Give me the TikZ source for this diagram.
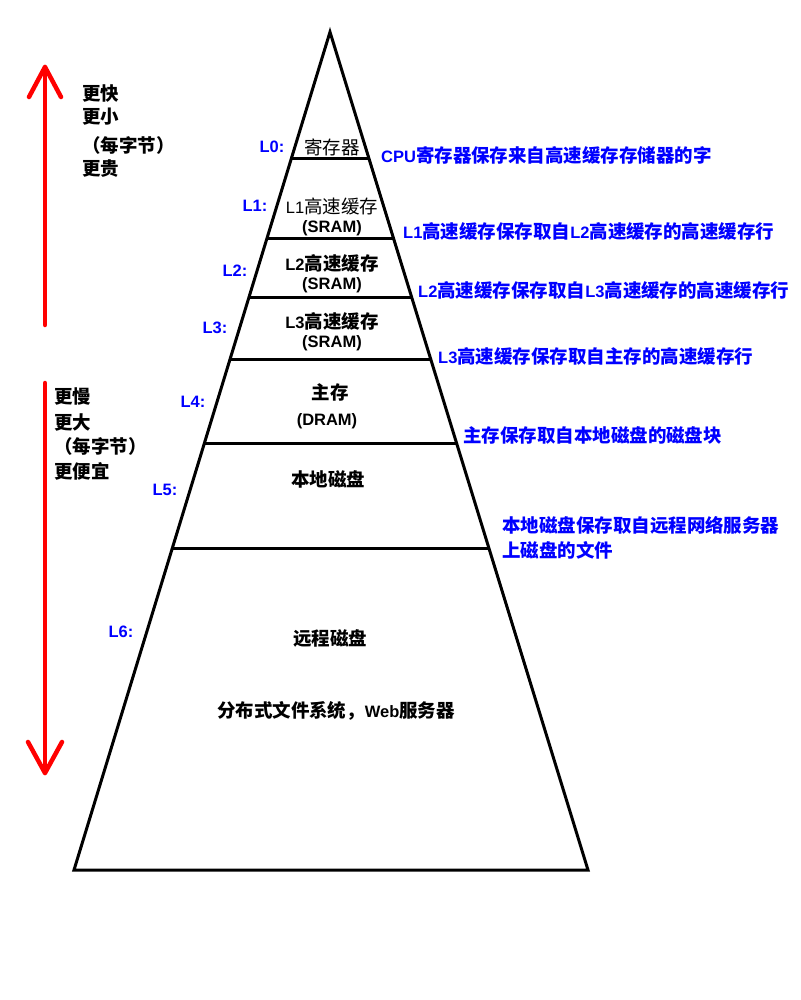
\documentclass[tikz,border=0pt]{standalone}
\usepackage{fontspec}
\usetikzlibrary{calc}
\setmainfont{Liberation Sans}
\newfontfamily\cjkfont[Scale=1.12]{Noto Sans CJK SC}
\XeTeXinterchartokenstate=1
\newXeTeXintercharclass\cjkclass
\newcount\cjkcode
\cjkcode="3000
\loop \XeTeXcharclass\cjkcode=\cjkclass \advance\cjkcode by 1 \ifnum\cjkcode<"3040 \repeat
\cjkcode="4E00
\loop \XeTeXcharclass\cjkcode=\cjkclass \advance\cjkcode by 1 \ifnum\cjkcode<"A000 \repeat
\cjkcode="FF00
\loop \XeTeXcharclass\cjkcode=\cjkclass \advance\cjkcode by 1 \ifnum\cjkcode<"FFF0 \repeat
\XeTeXinterchartoks 0 \cjkclass = {\begingroup\cjkfont}
\XeTeXinterchartoks 4095 \cjkclass = {\begingroup\cjkfont}
\XeTeXinterchartoks \cjkclass 0 = {\endgroup}
\XeTeXinterchartoks \cjkclass 4095 = {\endgroup}
\tikzstyle{lineb}=[black,line width=3pt]
\tikzstyle{arrowb}=[red,line width=4.5pt,line cap=round,line join=round]
\tikzstyle{levelb}=[text=blue,inner sep=0pt,font=\bfseries\fontsize{16.5}{20}\selectfont]
\tikzstyle{noteb}=[levelb,anchor=west,align=left]
\tikzstyle{layerb}=[inner sep=0pt,font=\bfseries\fontsize{16.5}{20}\selectfont]
\tikzstyle{layerl}=[inner sep=0pt,font=\fontsize{16.5}{20}\selectfont]
\tikzstyle{sideb}=[layerb,anchor=west]

\begin{document}
\begin{tikzpicture}[x=1pt,y=-1pt]
    \useasboundingbox (0,0) rectangle (800,1000);
    \coordinate (top) at (330,32);
    \coordinate (bl) at (74,870);
    \coordinate (br) at (588,870);
    \draw[lineb] (top) -- (bl) -- (br) -- cycle;
    \foreach \t in {0.1504,0.2470,0.3174,0.3914,0.4905,0.6158}
    \draw[lineb] ($(top)!\t!(bl)$) -- ($(top)!\t!(br)$);

    \coordinate (up0) at (45,325);
    \coordinate (up1) at (45,67);
    \draw[arrowb] (up0) -- (up1);
    \draw[arrowb] ($(up1)+(-16,30)$) -- (up1) -- ($(up1)+(16,30)$);
    \coordinate (dn0) at (45,383);
    \coordinate (dn1) at (45,773);
    \draw[arrowb] (dn0) -- (dn1);
    \draw[arrowb] ($(dn1)+(-17,-31)$) -- (dn1) -- ($(dn1)+(17,-31)$);

    \node[sideb] (s1) at (82,94)  {更快};
    \node[sideb] (s2) at (82,117) {更小};
    \node[sideb] (s3) at (82,145) {（每字节）};
    \node[sideb] (s4) at (82,169) {更贵};
    \node[sideb] (s5) at (54,396) {更慢};
    \node[sideb] (s6) at (54,422) {更大};
    \node[sideb] (s7) at (54,446) {（每字节）};
    \node[sideb] (s8) at (54,471) {更便宜};

    \node[levelb] (l0) at (272,147) {L0:};
    \node[levelb] (l1) at (255,206) {L1:};
    \node[levelb] (l2) at (235,271) {L2:};
    \node[levelb] (l3) at (215,328) {L3:};
    \node[levelb] (l4) at (193,402) {L4:};
    \node[levelb] (l5) at (165,490) {L5:};
    \node[levelb] (l6) at (121,632) {L6:};

    \node[layerl] (c0) at (332,147) {寄存器};
    \node[layerl] (c1) at (332,206) {L1高速缓存};
    \node[layerb] (c1b) at (332,228) {(SRAM)};
    \node[layerb] (c2) at (332,263) {L2高速缓存};
    \node[layerb] (c2b) at (332,285) {(SRAM)};
    \node[layerb] (c3) at (332,321) {L3高速缓存};
    \node[layerb] (c3b) at (332,343) {(SRAM)};
    \node[layerb] (c4) at (330,392) {主存};
    \node[layerb] (c4b) at (327,421) {(DRAM)};
    \node[layerb] (c5) at (328,479) {本地磁盘};
    \node[layerb] (c6) at (330,638) {远程磁盘};
    \node[layerb] (c6b) at (336,711) {分布式文件系统，Web服务器};

    \node[noteb] (t0) at (381,155) {CPU寄存器保存来自高速缓存存储器的字};
    \node[noteb] (t1) at (403,231) {L1高速缓存保存取自L2高速缓存的高速缓存行};
    \node[noteb] (t2) at (418,290) {L2高速缓存保存取自L3高速缓存的高速缓存行};
    \node[noteb] (t3) at (438,356) {L3高速缓存保存取自主存的高速缓存行};
    \node[noteb] (t4) at (463,435) {主存保存取自本地磁盘的磁盘块};
    \node[noteb] (t5) at (502,538) {本地磁盘保存取自远程网络服务器\\[5pt]上磁盘的文件};
\end{tikzpicture}
\end{document}
